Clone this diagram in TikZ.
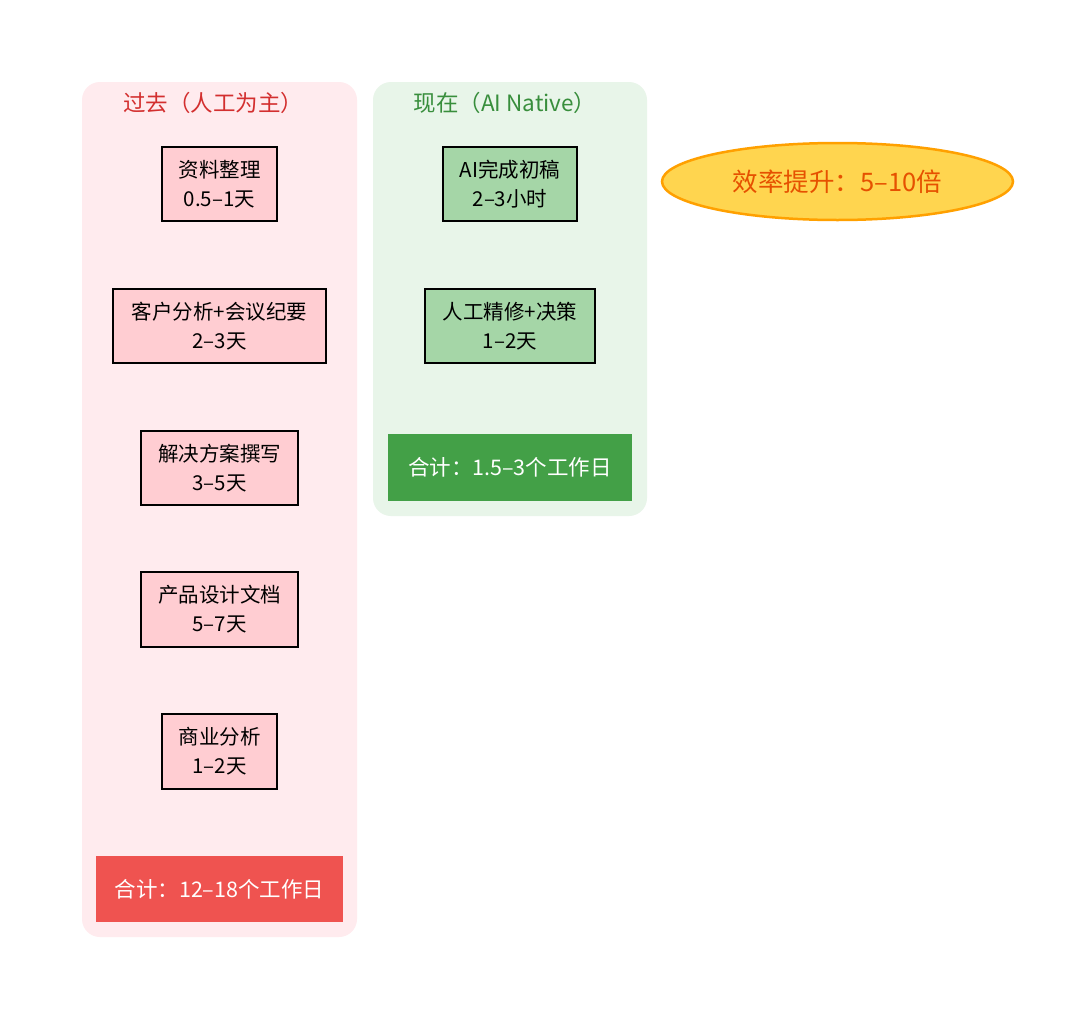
\documentclass[tikz,border=0pt]{standalone}
\usepackage{fontspec}
\setmainfont{Noto Sans CJK SC}
\usetikzlibrary{shapes.geometric}
\definecolor{pinkbg}{HTML}{FFEBEE}
\definecolor{greenbg}{HTML}{E8F5E9}
\definecolor{pinkbox}{HTML}{FFCDD2}
\definecolor{greenbox}{HTML}{A5D6A7}
\definecolor{redtot}{HTML}{EF5350}
\definecolor{greentot}{HTML}{43A047}
\definecolor{redtitle}{HTML}{D32F2F}
\definecolor{greentitle}{HTML}{388E3C}
\definecolor{ellfill}{HTML}{FFD54F}
\definecolor{elldraw}{HTML}{FFA000}
\definecolor{elltext}{HTML}{E65100}
\tikzset{
  panel/.style={rounded corners=18pt, draw=none},
  taskbox/.style={draw=black, line width=1.5pt, align=center, font=\fontsize{20.5}{29}\selectfont, inner sep=0pt},
  totbox/.style={draw=none, align=center, text=white, font=\fontsize{21.5}{24}\selectfont, inner sep=0pt},
  title/.style={font=\fontsize{22.5}{26}\selectfont}
}
\begin{document}
\begin{tikzpicture}[x=1pt,y=-1pt]
\useasboundingbox[fill=white] (0,0) rectangle (1080,1020);
% panels
\fill[pinkbg, panel] (82,82) rectangle (357,937);
\fill[greenbg, panel] (373,82) rectangle (647,516);
\node[title, text=redtitle] (t1) at (213,103) {过去（人工为主）};
\node[title, text=greentitle] (t2) at (505,103) {现在（AI Native）};
% left tasks
\node[taskbox, fill=pinkbox, minimum width=115pt, minimum height=74pt] (l1) at (219.5,184) {资料整理\\0.5–1天};
\node[taskbox, fill=pinkbox, minimum width=213pt, minimum height=74pt] (l2) at (219.5,326) {客户分析+会议纪要\\2–3天};
\node[taskbox, fill=pinkbox, minimum width=157pt, minimum height=74pt] (l3) at (219.5,468) {解决方案撰写\\3–5天};
\node[taskbox, fill=pinkbox, minimum width=157pt, minimum height=75pt] (l4) at (219.5,609.5) {产品设计文档\\5–7天};
\node[taskbox, fill=pinkbox, minimum width=115pt, minimum height=75pt] (l5) at (219.5,751.5) {商业分析\\1–2天};
\node[totbox, fill=redtot, minimum width=247pt, minimum height=66pt] (lt) at (219.5,889) {合计：12–18个工作日};
% right tasks
\node[taskbox, fill=greenbox, minimum width=134pt, minimum height=74pt] (r1) at (510,184) {AI完成初稿\\2–3小时};
\node[taskbox, fill=greenbox, minimum width=170pt, minimum height=74pt] (r2) at (510,326) {人工精修+决策\\1–2天};
\node[totbox, fill=greentot, minimum width=244pt, minimum height=67pt] (rt) at (510,467.5) {合计：1.5–3个工作日};
% ellipse
\node[ellipse, draw=elldraw, line width=2.5pt, fill=ellfill, minimum width=351pt, minimum height=77pt, inner sep=0pt, text=elltext, font=\fontsize{25.5}{28}\selectfont] (eff) at (837.5,181.5) {效率提升：5–10倍};
\end{tikzpicture}
\end{document}
